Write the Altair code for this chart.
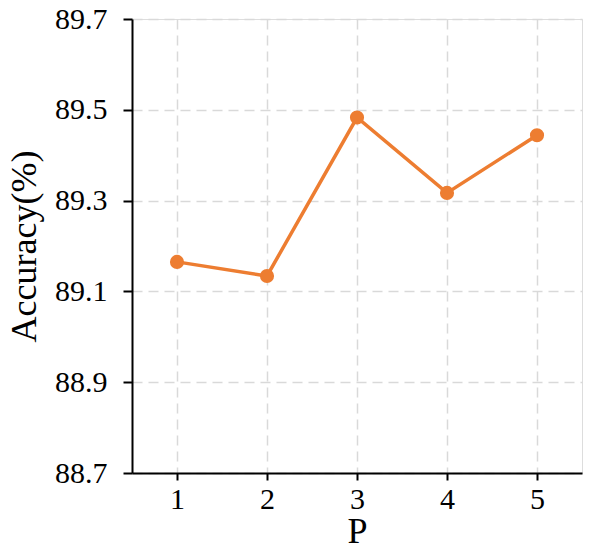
import altair as alt
import pandas as pd

p_values = [1, 2, 3, 4, 5]
accuracy = [89.165, 89.134, 89.483, 89.317, 89.444]
y_ticks = [88.7, 88.9, 89.1, 89.3, 89.5, 89.7]

df = pd.DataFrame({"P": p_values, "Accuracy": accuracy})

FONT = "Liberation Serif"
ORANGE = "#ed7d31"

x = alt.X("P:Q", scale=alt.Scale(domain=[0.5, 5.5], nice=False, zero=False),
          axis=alt.Axis(values=p_values, format="d", title="P",
                        grid=True, gridColor="#d9d9d9", gridDash=[10, 6], gridWidth=1.5,
                        domainColor="black", domainWidth=2, tickColor="black", tickWidth=2,
                        tickSize=7, labelPadding=4, labelFontSize=30, labelFont=FONT,
                        labelColor="black", titleFont=FONT, titleFontSize=36,
                        titleFontWeight="normal", titleColor="black", titlePadding=0))
y = alt.Y("Accuracy:Q", scale=alt.Scale(domain=[88.7, 89.7], nice=False, zero=False),
          axis=alt.Axis(values=y_ticks, format=".1f", title="Accuracy(%)",
                        grid=True, gridColor="#d9d9d9", gridDash=[10, 6], gridWidth=1.5,
                        domainColor="black", domainWidth=2, tickColor="black", tickWidth=2,
                        tickSize=9, labelPadding=16, labelFontSize=30, labelFont=FONT,
                        labelColor="black", titleFont=FONT, titleFontSize=36,
                        titleFontWeight="normal", titleColor="black", titlePadding=11,
                        labelFlush=False))

base = alt.Chart(df)
line = base.mark_line(color=ORANGE, strokeWidth=3.5).encode(x=x, y=y)
pts = base.mark_circle(color=ORANGE, size=200, opacity=1).encode(x=x, y=y)

chart = (line + pts).properties(
    width=450, height=454,
    autosize=alt.AutoSizeParams(type="none"),
    padding={"left": 124, "top": 11, "right": 1, "bottom": 70},
).configure_view(stroke="black", strokeWidth=2).configure(background="white")

chart.save("out.html", embed_options={"renderer": "svg", "actions": False})
